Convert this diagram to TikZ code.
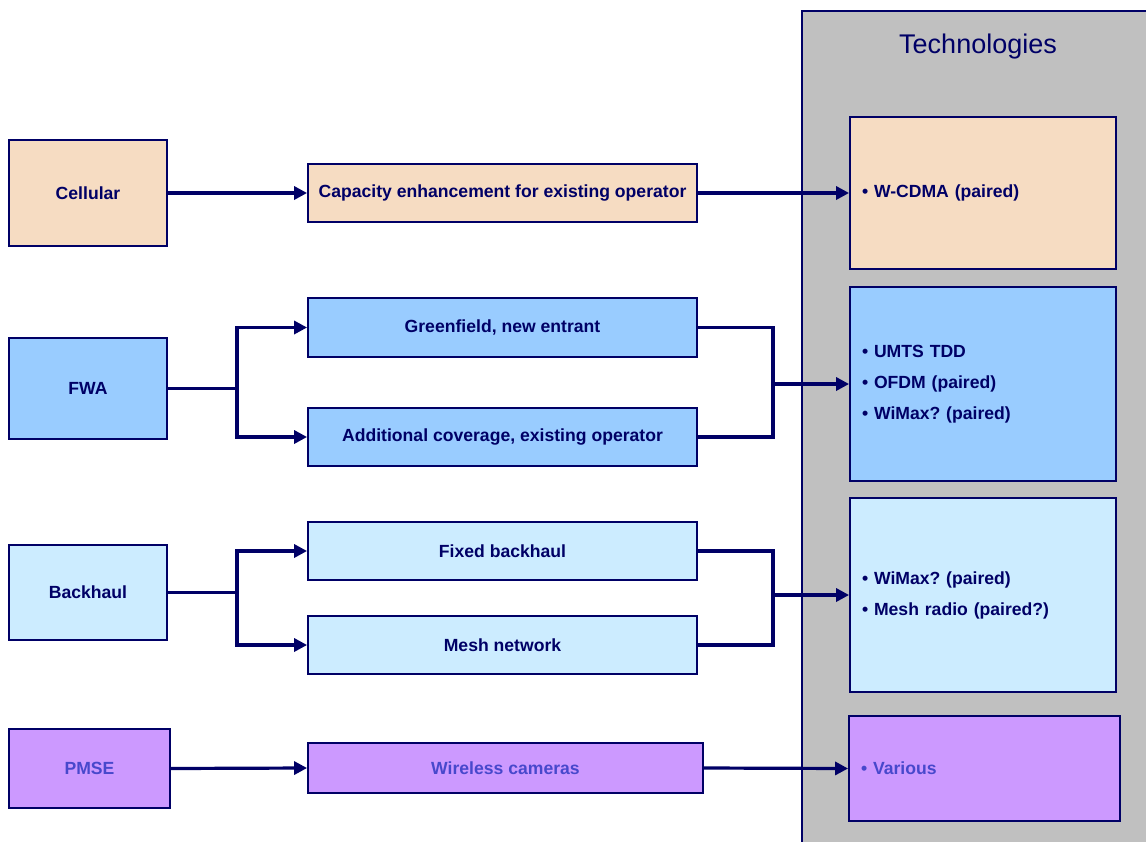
\documentclass[tikz,border=0pt]{standalone}
\usepackage{fontspec}
\setmainfont{Liberation Sans}
\usetikzlibrary{arrows.meta}
\frenchspacing
\definecolor{navy}{RGB}{0,0,102}
\definecolor{peach}{RGB}{246,220,194}
\definecolor{fwablue}{RGB}{153,204,255}
\definecolor{paleblue}{RGB}{204,236,255}
\definecolor{lilac}{RGB}{204,153,255}
\definecolor{panelgray}{RGB}{192,192,192}
\definecolor{pmsetext}{RGB}{72,72,204}
\tikzset{
  box/.style={draw=navy, line width=1.8pt, inner sep=0pt, font=\fontsize{17.6}{20}\selectfont\bfseries, text=navy},
  techbox/.style={box, align=left, text width=242pt, inner xsep=12pt, font=\fontsize{17.6}{31}\selectfont\bfseries},
  conn/.style={draw=navy, line width=3.2pt},
  arr/.style={conn, -{Triangle[length=13pt,width=13pt]}}
}
\begin{document}
\frenchspacing
\begin{tikzpicture}[x=1pt,y=-1pt]
\useasboundingbox (0,0) rectangle (1146,841);
% panel
\fill[panelgray] (802,11) rectangle (1150,845);
\draw[navy, line width=1.8pt] (802,845) -- (802,11) -- (1150,11);
\node[text=navy, font=\fontsize{27}{30}\selectfont] (title) at (978,47) {Technologies};

% nodes
\node[box, fill=peach, minimum width=158pt, minimum height=106pt] (cell) at (88,193) {Cellular};
\node[box, fill=peach, minimum width=389pt, minimum height=58pt] (cap) at (502.5,193) {Capacity enhancement for existing operator};
\node[techbox, fill=peach, minimum height=152pt] (tcell) at (983,193) {• W-CDMA (paired)};

\node[box, fill=fwablue, minimum width=158pt, minimum height=101pt] (fwa) at (88,388.5) {FWA};
\node[box, fill=fwablue, minimum width=389pt, minimum height=59pt] (green) at (502.5,327.5) {Greenfield, new entrant};
\node[box, fill=fwablue, minimum width=389pt, minimum height=58pt] (addcov) at (502.5,437) {Additional coverage, existing operator};
\node[techbox, fill=fwablue, minimum height=194pt] (tfwa) at (983,384) {• UMTS TDD\\• OFDM (paired)\\• WiMax? (paired)};

\node[box, fill=paleblue, minimum width=158pt, minimum height=95pt] (bh) at (88,592.5) {Backhaul};
\node[box, fill=paleblue, minimum width=389pt, minimum height=58pt] (fixed) at (502.5,551) {Fixed backhaul};
\node[box, fill=paleblue, minimum width=389pt, minimum height=58pt] (mesh) at (502.5,645) {Mesh network};
\node[techbox, fill=paleblue, minimum height=194pt] (tbh) at (983,595) {• WiMax? (paired)\\• Mesh radio (paired?)};

\node[box, fill=lilac, text=pmsetext, minimum width=161pt, minimum height=79pt] (pmse) at (89.5,768.5) {PMSE};
\node[box, fill=lilac, text=pmsetext, minimum width=395pt, minimum height=50pt] (cam) at (505.5,768) {Wireless cameras};
\node[techbox, fill=lilac, text=pmsetext, text width=247pt, minimum height=105pt] (tpmse) at (984.5,768.5) {• Various};

% junction coordinates
\coordinate (fwaj) at (237,388.5);
\coordinate (fwar) at (773,384);
\coordinate (bhj) at (237,592.5);
\coordinate (bhr) at (773,595);

% connectors
\draw[arr] (cell.east) -- (cap.west);
\draw[arr] (cap.east) -- (tcell.west);

\draw[conn] (fwa.east) -- (fwaj);
\draw[arr] (fwaj) |- (green.west);
\draw[arr] (fwaj) |- (addcov.west);
\draw[conn] (green.east) -| (fwar) |- (addcov.east);
\draw[arr] (fwar) -- (tfwa.west);

\draw[conn] (bh.east) -- (bhj);
\draw[arr] (bhj) |- (fixed.west);
\draw[arr] (bhj) |- (mesh.west);
\draw[conn] (fixed.east) -| (bhr) |- (mesh.east);
\draw[arr] (bhr) -- (tbh.west);

\draw[arr] (pmse.east) -- (cam.west);
\draw[arr] (cam.east) -- (tpmse.west);
\end{tikzpicture}
\end{document}
